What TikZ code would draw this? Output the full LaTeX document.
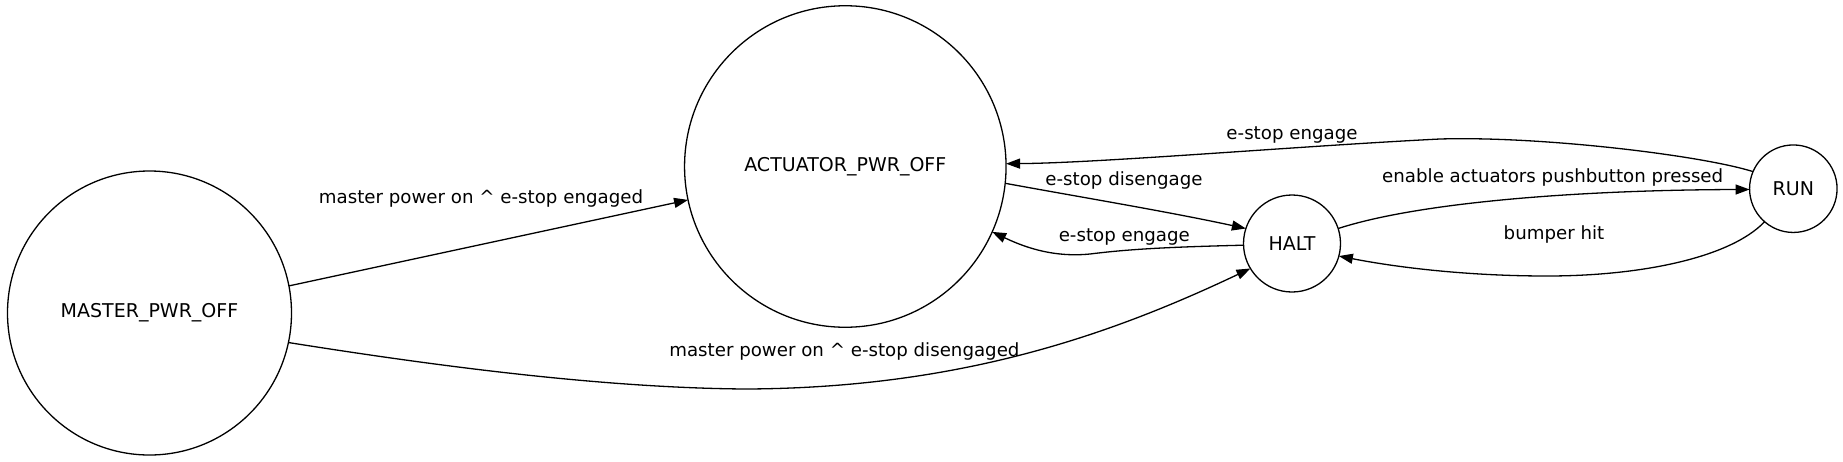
\documentclass[tikz,border=0pt]{standalone}
\usepackage{fontspec}
\setmainfont{DejaVu Sans}
\usetikzlibrary{arrows.meta}
\begin{document}
\begin{tikzpicture}[x=1pt,y=-1pt, line width=1.3pt,
  state/.style={draw, circle, inner sep=0pt, outer sep=0pt, font=\fontsize{19}{22}\selectfont},
  lbl/.style={anchor=base, inner sep=0pt, font=\fontsize{18.2}{21}\selectfont},
  edge/.style={-{Triangle[length=14pt,width=10pt]}}]
\useasboundingbox[fill=white] (0,0) rectangle (1843,461);
\node[state, minimum size=284pt] (M) at (149.5,313) {MASTER\_PWR\_OFF};
\node[state, minimum size=321.5pt] (A) at (845.3,166.5) {ACTUATOR\_PWR\_OFF};
\node[state, minimum size=97pt] (H) at (1292,243.5) {HALT};
\node[state, minimum size=87.5pt] (R) at (1793.3,188.7) {RUN};

\draw[edge] (M.11.9) -- (A.-168.3);
\draw[edge] (M.-12.6) .. controls (430,365) and (600,388) .. (746,389) .. controls (960,388) and (1110,335) .. (H.211.2);
\draw[edge] (A.-6.7) .. controls (1080,197) and (1170,212) .. (H.162.9);
\draw[edge] (H.182.8) .. controls (1170,247) and (1130,249) .. (1090,254) .. controls (1050,258) and (1020,245) .. (A.-24.8);
\draw[edge] (H.18.6) .. controls (1420,202) and (1580,190) .. (R.181.9);
\draw[edge] (R.229.1) .. controls (1730,258) and (1640,276) .. (1547,276) .. controls (1470,276) and (1400,268) .. (H.-15);
\draw[edge] (R.157.4) .. controls (1700,155) and (1540,136) .. (1440,139) .. controls (1300,146) and (1100,163) .. (A.1.1);

\node[lbl] (l1) at (481,203.3) {master power on \textasciicircum{} e-stop engaged};
\node[lbl] (l2) at (844.4,356.7) {master power on \textasciicircum{} e-stop disengaged};
\node[lbl] (l3) at (1124,185) {e-stop disengage};
\node[lbl] (l4) at (1124.3,241) {e-stop engage};
\node[lbl] (l5) at (1552.7,182.7) {enable actuators pushbutton pressed};
\node[lbl] (l6) at (1554,239) {bumper hit};
\node[lbl] (l7) at (1292,139.3) {e-stop engage};
\end{tikzpicture}
\end{document}
